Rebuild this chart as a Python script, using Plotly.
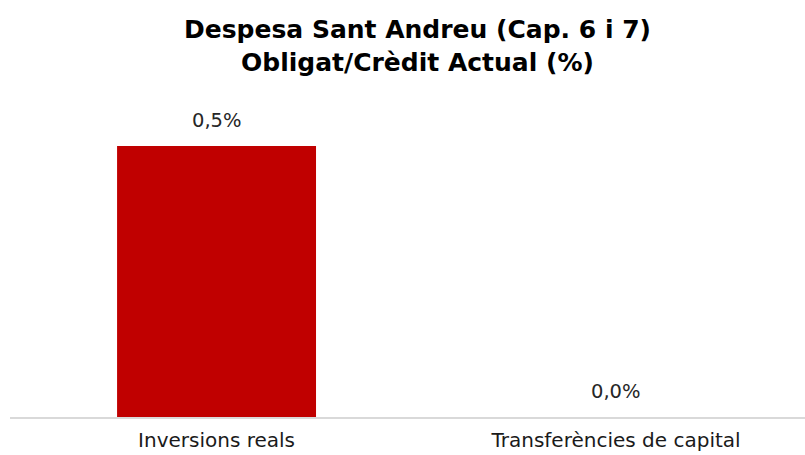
import plotly.graph_objects as go

categories = ["Inversions reals", "Transferències de capital"]
values = [0.5, 0.0]
labels = ["0,5%", "0,0%"]
title_lines = ["Despesa Sant Andreu (Cap. 6 i 7)", "Obligat/Crèdit Actual (%)"]

FONT = "DejaVu Sans, Arial"

fig = go.Figure()
fig.add_trace(go.Bar(
    x=categories, y=values, width=0.498,
    marker=dict(color="#C00000", line=dict(width=0)),
    hoverinfo="skip",
))

for c, v, t in zip(categories, values, labels):
    fig.add_annotation(x=c, y=v, text=t, showarrow=False, yanchor="bottom",
                       yshift=12, font=dict(family=FONT, size=19.5, color="#262626"))

H = 455
fig.add_annotation(
    xref="paper", yref="paper", x=(417 - 10) / 795, y=1 + (100 - 46) / 317,
    xanchor="center", yanchor="middle", showarrow=False,
    text="<b>" + "<br>".join(title_lines) + "</b>",
    font=dict(family=FONT, size=25, color="#000000"),
)

fig.update_layout(
    width=805, height=H,
    margin=dict(l=10, r=0, t=100, b=38),
    paper_bgcolor="white", plot_bgcolor="white",
    showlegend=False,
    xaxis=dict(range=[-0.517, 1.473], showgrid=False, zeroline=False,
               showline=True, linecolor="#D9D9D9", linewidth=2, ticks="",
               ticklabelstandoff=4,
               tickfont=dict(family=FONT, size=20, color="#1a1a1a")),
    yaxis=dict(range=[0, 0.585], visible=False, showgrid=False, zeroline=False),
)

fig.write_html("out.html", config={"displayModeBar": False},
               post_script="document.body.style.margin='0';document.body.style.overflow='hidden';")
